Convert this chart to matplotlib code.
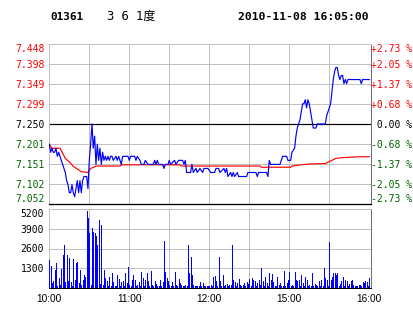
import numpy as np
import matplotlib
matplotlib.use("Agg")
import matplotlib.pyplot as plt

# ---------------- data ----------------
code = "01361"
name = "3 6 1度"
stamp = "2010-11-08 16:05:00"

price_labels = ["7.448", "7.398", "7.349", "7.299", "7.250", "7.201", "7.151", "7.102", "7.052"]
pct_labels = ["+2.73 %", "+2.05 %", "+1.37 %", "+0.68 %", " 0.00 %", "-0.68 %", "-1.37 %", "-2.05 %", "-2.73 %"]
prev_close = 7.250
price_low, price_high = 7.052, 7.448

time_labels = ["10:00", "11:00", "12:00", "15:00", "16:00"]
time_label_minutes = [0, 60, 120, 180, 240]

vol_labels = ["1300", "2600", "3900", "5200"]
vol_ticks = [1300, 2600, 3900, 5200]

price_minutes = [0, 1, 2, 3, 4, 5, 6, 7, 8, 9, 10, 11, 12, 13, 14, 15, 16, 17, 18, 19,
                 20, 21, 22, 23, 24, 25, 26, 27, 28, 29, 30, 31, 32, 33, 34, 35, 36, 37, 38, 39,
                 40, 41, 42, 43, 44, 45, 46, 47, 48, 50, 51, 52, 54, 55, 59, 60, 61, 64, 65, 66,
                 68, 69, 71, 72, 74, 78, 79, 80, 81, 82, 85, 86, 87, 89, 90, 91, 94, 95, 97, 100,
                 101, 102, 103, 106, 107, 108, 110, 111, 113, 115, 116, 119, 121, 124, 125, 127, 128, 131, 132, 133,
                 134, 136, 137, 138, 139, 141, 142, 148, 149, 155, 156, 157, 163, 164, 165, 166, 173, 174, 175, 178,
                 179, 181, 182, 184, 185, 186, 188, 189, 190, 191, 192, 193, 194, 195, 196, 197, 198, 200, 201, 207,
                 208, 209, 211, 212, 213, 214, 215, 216, 217, 218, 219, 220, 221, 222, 223, 224, 233, 234, 235, 240]
price_values = [7.20, 7.18, 7.19, 7.18, 7.18, 7.19, 7.17, 7.18, 7.17, 7.16, 7.15, 7.14, 7.13, 7.11, 7.10, 7.08, 7.08, 7.10, 7.08, 7.07,
                7.09, 7.11, 7.08, 7.11, 7.08, 7.11, 7.12, 7.12, 7.12, 7.09, 7.16, 7.20, 7.25, 7.19, 7.22, 7.15, 7.20, 7.16, 7.19, 7.15,
                7.18, 7.16, 7.17, 7.16, 7.17, 7.16, 7.17, 7.17, 7.16, 7.17, 7.16, 7.17, 7.15, 7.17, 7.17, 7.16, 7.17, 7.17, 7.16, 7.17,
                7.16, 7.15, 7.15, 7.16, 7.15, 7.15, 7.16, 7.15, 7.16, 7.15, 7.15, 7.14, 7.15, 7.15, 7.16, 7.15, 7.16, 7.15, 7.16, 7.16,
                7.15, 7.16, 7.13, 7.13, 7.15, 7.13, 7.14, 7.13, 7.14, 7.13, 7.14, 7.14, 7.13, 7.13, 7.14, 7.14, 7.13, 7.14, 7.13, 7.14,
                7.12, 7.13, 7.12, 7.13, 7.12, 7.13, 7.12, 7.12, 7.13, 7.13, 7.12, 7.13, 7.13, 7.12, 7.16, 7.15, 7.15, 7.16, 7.17, 7.17,
                7.16, 7.16, 7.18, 7.19, 7.22, 7.24, 7.26, 7.28, 7.30, 7.30, 7.31, 7.29, 7.31, 7.30, 7.28, 7.26, 7.24, 7.24, 7.25, 7.25,
                7.27, 7.28, 7.30, 7.33, 7.36, 7.38, 7.39, 7.39, 7.37, 7.36, 7.37, 7.37, 7.35, 7.36, 7.35, 7.36, 7.36, 7.35, 7.36, 7.36]

avg_minutes = [0, 1, 2, 8, 10, 12, 16, 18, 20, 24, 29, 31, 34, 35, 53, 54, 98, 99, 158, 159,
               181, 182, 189, 195, 207, 210, 212, 215, 221, 227, 234, 240]
avg_values = [7.200, 7.195, 7.190, 7.190, 7.178, 7.165, 7.153, 7.145, 7.141, 7.132, 7.130, 7.140, 7.144, 7.146, 7.146, 7.149, 7.149, 7.146, 7.146, 7.143,
              7.143, 7.146, 7.149, 7.151, 7.152, 7.157, 7.160, 7.165, 7.167, 7.168, 7.169, 7.169]

volumes = [1842, 1447, 300, 460, 1184, 1667, 150, 636, 200, 1250,
           2171, 2830, 400, 2171, 450, 1950, 380, 150, 1930, 530,
           1667, 1735, 300, 1184, 200, 530, 855, 745, 5066, 4584,
           3600, 200, 3940, 3663, 3600, 3455, 2830, 4474, 250, 4145,
           200, 1184, 640, 450, 150, 750, 120, 1010, 400, 150,
           120, 855, 600, 120, 400, 450, 150, 1010, 300, 1360,
           200, 120, 530, 855, 500, 120, 200, 400, 150, 1075,
           640, 120, 530, 970, 450, 150, 1140, 200, 120, 450,
           250, 120, 150, 500, 120, 400, 3115, 1075, 640, 450,
           200, 120, 400, 150, 1075, 200, 120, 600, 300, 200,
           120, 150, 200, 120, 2830, 1010, 2060, 855, 200, 120,
           150, 100, 120, 400, 120, 300, 120, 120, 150, 120,
           120, 200, 120, 745, 800, 450, 120, 2060, 450, 120,
           855, 120, 200, 250, 120, 230, 200, 2830, 530, 400,
           120, 300, 600, 200, 120, 200, 300, 120, 400, 250,
           600, 120, 650, 530, 450, 120, 300, 500, 200, 1294,
           450, 120, 700, 300, 120, 965, 500, 900, 400, 120,
           120, 700, 200, 300, 120, 150, 1140, 120, 300, 530,
           1075, 120, 200, 120, 1075, 530, 450, 500, 120, 855,
           350, 120, 700, 530, 120, 200, 120, 1010, 120, 250,
           200, 120, 450, 120, 530, 120, 1294, 640, 530, 120,
           3049, 530, 750, 970, 1010, 855, 1010, 120, 250, 450,
           750, 120, 530, 450, 120, 250, 450, 530, 200, 120,
           150, 120, 230, 200, 120, 400, 300, 450, 400, 120,
           640]
vol_minutes = list(range(len(volumes)))

# ---------------- styling ----------------
W, H = 414, 314
RED = "#ff0000"
GREEN = "#006400"
BLUE = "#0000ff"
GRID = "#c0c0c0"
MONO = "DejaVu Sans Mono"
PX = 72 / 100  # one pixel in points

fig = plt.figure(figsize=(W / 100, H / 100), dpi=100)
fig.patch.set_facecolor("white")

left_px, right_px = 49.3, 371.0
x_max = 241.3
ax1 = fig.add_axes([left_px / W, 1 - 204 / H, (right_px - left_px) / W, 160 / H])
ax2 = fig.add_axes([left_px / W, 1 - 288 / H, (right_px - left_px) / W, 79 / H])

grid_x = [30, 60, 90, 120, 150, 180, 210]
grid_y = np.linspace(price_low, price_high, len(price_labels))[::-1]

# ---- price panel ----
ax1.set_xlim(0, x_max)
ax1.set_ylim(price_low, price_high)
for gx in grid_x:
    ax1.axvline(gx, color=GRID, lw=PX, zorder=1)
for gy in grid_y[1:-1]:
    if abs(gy - prev_close) > 1e-6:
        ax1.axhline(gy, color=GRID, lw=PX, zorder=1)
ax1.axhline(prev_close, color="black", lw=PX * 1.2, zorder=2)
ax1.plot(avg_minutes, avg_values, color=RED, lw=0.85, zorder=3)
ax1.plot(price_minutes, price_values, color=BLUE, lw=0.85, zorder=4)
ax1.set_xticks([])
ax1.set_yticks([])
for s in ["top", "left"]:
    ax1.spines[s].set_color(GRID)
    ax1.spines[s].set_linewidth(PX)
ax1.spines["right"].set_color("#707070")
ax1.spines["right"].set_linewidth(PX)
ax1.spines["bottom"].set_color("black")
ax1.spines["bottom"].set_linewidth(PX * 1.3)

ytr = ax1.get_yaxis_transform()
n = len(price_labels)
for i, (gy, pl, cl) in enumerate(zip(grid_y, price_labels, pct_labels)):
    if i < 4:
        col = RED
    elif i == 4:
        col = "black"
    else:
        col = GREEN
    va = "top" if i == 0 else ("bottom" if i == n - 1 else "center_baseline")
    ax1.text(-5 / (right_px - left_px), gy, pl, transform=ytr, ha="right", va=va,
             color=col, fontsize=7, family=MONO)
    ax1.text(1 + 0.5 / (right_px - left_px), gy, cl, transform=ytr, ha="left", va=va,
             color=col, fontsize=7, family=MONO)

# ---- volume panel ----
ax2.set_xlim(0, x_max)
ax2.set_ylim(0, 5200)
for gx in grid_x:
    ax2.axvline(gx, color=GRID, lw=PX, zorder=1)
for gy in vol_ticks[:-1]:
    ax2.axhline(gy, color=GRID, lw=PX, zorder=1)
ax2.vlines(vol_minutes, 0, volumes, color=BLUE, lw=PX * 1.0, zorder=3, antialiased=False)
ax2.set_yticks([])
ax2.set_xticks(time_label_minutes)
ax2.set_xticklabels(time_labels, family="Liberation Sans", fontsize=7.3)
ax2.tick_params(axis="x", length=0, pad=4.3)
for s in ["top", "left"]:
    ax2.spines[s].set_color(GRID)
    ax2.spines[s].set_linewidth(PX)
ax2.spines["right"].set_color("#707070")
ax2.spines["right"].set_linewidth(PX)
ax2.spines["bottom"].set_color("black")
ax2.spines["bottom"].set_linewidth(PX)

ytr2 = ax2.get_yaxis_transform()
for vt, vl in zip(vol_ticks, vol_labels):
    va = "top" if vt == vol_ticks[-1] else "center_baseline"
    ax2.text(-5 / (right_px - left_px), vt, vl, transform=ytr2, ha="right", va=va,
             color="black", fontsize=7, family=MONO)

# ---- header ----
fig.text(50 / W, 1 - 16.5 / H, code, ha="left", va="center", fontsize=7.9,
         family=MONO, weight="bold", color="black")
fig.text(107 / W, 1 - 16 / H, name, ha="left", va="center", fontsize=8.7,
         family=[MONO, "Noto Sans CJK SC"], color="black")
fig.text(238 / W, 1 - 16.5 / H, stamp, ha="left", va="center", fontsize=8.2,
         family=MONO, weight="bold", color="black")

fig.savefig("out.png", dpi=100, facecolor="white")
